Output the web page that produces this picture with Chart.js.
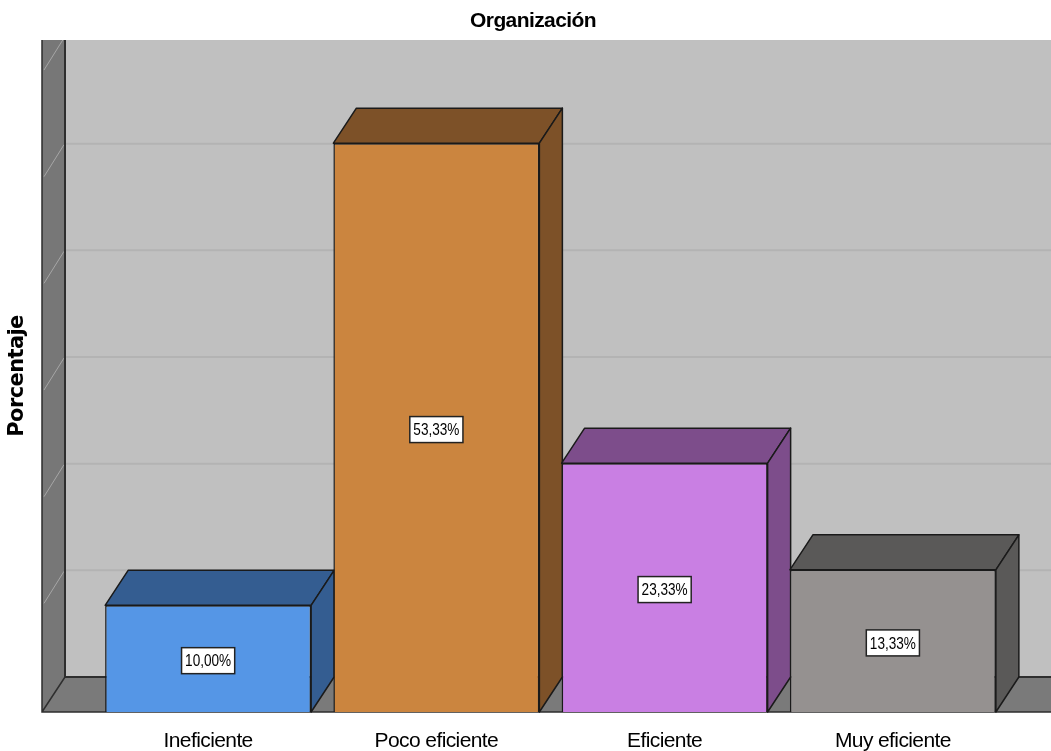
<!DOCTYPE html>
<html>
<head>
<meta charset="utf-8">
<title>Organización</title>
<script src="https://cdn.jsdelivr.net/npm/chart.js@4.4.1/dist/chart.umd.min.js"></script>
<style>
  html, body { margin: 0; padding: 0; background: #fff; }
  #wrap { width: 1051px; height: 751px; }
</style>
</head>
<body>
<div id="wrap"><canvas id="chart"></canvas></div>
<script>
// Data
const categories = ["Ineficiente", "Poco eficiente", "Eficiente", "Muy eficiente"];
const percentages = [10.00, 53.33, 23.33, 13.33];
const valueLabels = ["10,00%", "53,33%", "23,33%", "13,33%"];
const gridValues = [0, 10, 20, 30, 40, 50, 60];

const frontColors = ["#5596e6", "#cb853f", "#c97fe3", "#959190"];
const darkColors = ["#345d91", "#7d5128", "#7d4d8b", "#5a5958"];

const narrow = "'Liberation Sans Narrow', 'Arial Narrow', 'Liberation Sans', sans-serif";

// depth of the 3d effect (px)
const DX = 23, DY = -35;
const SPACING = "-0.6px";

const box3d = {
    id: "box3d",
    beforeInit(chart) {
        chart.ctx.letterSpacing = SPACING;
    },
    beforeDraw(chart) {
        const ctx = chart.ctx;
        ctx.letterSpacing = SPACING;
        const area = chart.chartArea;
        const y = chart.scales.y;
        const W = chart.width;
        const floorFront = y.getPixelForValue(0);
        const floorBack = floorFront + DY;
        const wallX = 42, wallBackX = wallX + DX;

        ctx.save();
        ctx.beginPath();
        ctx.rect(0, area.top, W, chart.height - area.top);
        ctx.clip();

        // back wall
        ctx.fillStyle = "#c0c0c0";
        ctx.fillRect(wallBackX, area.top, W - wallBackX, floorBack - area.top);

        // gridlines on back wall
        ctx.strokeStyle = "#b3b3b3";
        ctx.lineWidth = 2;
        gridValues.forEach(v => {
            if (v === 0) return;
            const gy = y.getPixelForValue(v) + DY;
            ctx.beginPath();
            ctx.moveTo(wallBackX, gy);
            ctx.lineTo(W, gy);
            ctx.stroke();
        });

        // left wall
        ctx.fillStyle = "#777777";
        ctx.beginPath();
        ctx.moveTo(wallX, area.top);
        ctx.lineTo(wallBackX, area.top);
        ctx.lineTo(wallBackX, floorBack);
        ctx.lineTo(wallX, floorFront);
        ctx.closePath();
        ctx.fill();

        // diagonal gridlines on left wall
        ctx.strokeStyle = "#a6a6a6";
        ctx.lineWidth = 1;
        gridValues.forEach(v => {
            if (v === 0) return;
            const fy = y.getPixelForValue(v);
            ctx.beginPath();
            ctx.moveTo(wallX + 2, fy - 2);
            ctx.lineTo(wallBackX - 1, fy + DY + 1);
            ctx.stroke();
        });

        // floor
        ctx.fillStyle = "#7a7a7a";
        ctx.beginPath();
        ctx.moveTo(wallX, floorFront);
        ctx.lineTo(wallBackX, floorBack);
        ctx.lineTo(W, floorBack);
        ctx.lineTo(W, floorFront);
        ctx.closePath();
        ctx.fill();

        // edges
        ctx.strokeStyle = "#2e2e2e";
        ctx.lineWidth = 2;
        ctx.beginPath();
        ctx.moveTo(wallBackX, area.top);
        ctx.lineTo(wallBackX, floorBack);
        ctx.lineTo(W, floorBack);
        ctx.stroke();
        ctx.lineWidth = 1.5;
        ctx.beginPath();
        ctx.moveTo(wallX, area.top);
        ctx.lineTo(wallX, floorFront);
        ctx.lineTo(W, floorFront);
        ctx.moveTo(wallX, floorFront);
        ctx.lineTo(wallBackX, floorBack);
        ctx.stroke();
        ctx.restore();
    },
    beforeDatasetsDraw(chart) {
        const ctx = chart.ctx;
        const meta = chart.getDatasetMeta(0);
        ctx.save();
        ctx.lineWidth = 1.5;
        ctx.strokeStyle = "#1a1a1a";
        ctx.lineJoin = "round";
        meta.data.forEach((bar, i) => {
            const L = bar.x - bar.width / 2, R = bar.x + bar.width / 2;
            const T = bar.y, B = bar.base;
            ctx.fillStyle = darkColors[i];
            // top face
            ctx.beginPath();
            ctx.moveTo(L, T);
            ctx.lineTo(L + DX, T + DY);
            ctx.lineTo(R + DX, T + DY);
            ctx.lineTo(R, T);
            ctx.closePath();
            ctx.fill();
            ctx.stroke();
            // side face
            ctx.beginPath();
            ctx.moveTo(R, T);
            ctx.lineTo(R + DX, T + DY);
            ctx.lineTo(R + DX, B + DY);
            ctx.lineTo(R, B);
            ctx.closePath();
            ctx.fill();
            ctx.stroke();
        });
        ctx.restore();
    },
    afterDatasetsDraw(chart) {
        const ctx = chart.ctx;
        const meta = chart.getDatasetMeta(0);
        ctx.save();
        ctx.letterSpacing = "0px";
        ctx.font = "17px " + narrow;
        ctx.textAlign = "center";
        ctx.textBaseline = "middle";
        const sx = 0.8;
        meta.data.forEach((bar, i) => {
            const cx = bar.x, cy = (bar.y + bar.base) / 2 + 2;
            const tw = ctx.measureText(valueLabels[i]).width * sx;
            const bw = tw + 7, bh = 26;
            ctx.fillStyle = "#ffffff";
            ctx.fillRect(cx - bw / 2, cy - bh / 2, bw, bh);
            ctx.strokeStyle = "#222";
            ctx.lineWidth = 1.5;
            ctx.strokeRect(cx - bw / 2, cy - bh / 2, bw, bh);
            ctx.save();
            ctx.translate(cx, cy + 1);
            ctx.scale(sx, 1);
            ctx.fillStyle = "#000";
            ctx.fillText(valueLabels[i], 0, 0);
            ctx.restore();
        });
        ctx.restore();
    }
};

new Chart(document.getElementById("chart"), {
    type: "bar",
    data: {
        labels: categories,
        datasets: [{
            label: "Porcentaje",
            data: percentages,
            backgroundColor: frontColors,
            borderColor: "#1a1a1a",
            borderWidth: 1.5,
            categoryPercentage: 1,
            barPercentage: 0.9025
        }]
    },
    options: {
        responsive: true,
        maintainAspectRatio: false,
        animation: false,
        layout: { padding: { left: 15, right: 0, top: 0, bottom: 0 } },
        plugins: {
            legend: { display: false },
            tooltip: { enabled: false },
            title: {
                display: true,
                text: "Organización",
                color: "#000",
                font: { family: narrow, size: 21, weight: "bold" },
                padding: { top: 9, bottom: 5.8 }
            }
        },
        scales: {
            x: {
                grid: { display: false },
                border: { display: false },
                ticks: { color: "#000", font: { family: narrow, size: 21 }, padding: 9 },
                afterFit: scale => { scale.height = 39; }
            },
            y: {
                min: 0,
                max: 63,
                grid: { display: false },
                border: { display: false },
                ticks: { display: false, stepSize: 10 },
                title: {
                    display: true,
                    text: "Porcentaje",
                    color: "#000",
                    font: { family: "'DejaVu Sans', sans-serif", size: 21, weight: "bold" },
                    padding: { top: -10, bottom: 0 }
                },
                afterFit: scale => { scale.width = 79; }
            },
            // empty right-hand axis that only reserves the space right of the bars
            yRight: {
                position: "right",
                display: true,
                grid: { display: false },
                border: { display: false },
                ticks: { display: false },
                afterFit: scale => { scale.width = 44; }
            }
        }
    },
    plugins: [box3d]
});
</script>
</body>
</html>
